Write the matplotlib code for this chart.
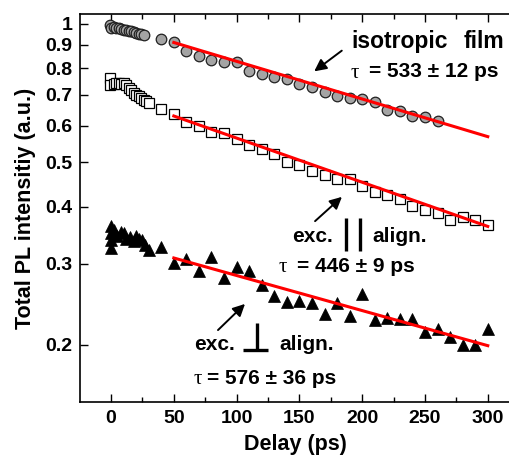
import matplotlib
matplotlib.use("Agg")
import matplotlib.pyplot as plt
from matplotlib.ticker import FixedLocator, FixedFormatter, MultipleLocator, NullLocator

# ---------------- data ----------------
iso_t = [-1, 0, 2, 4, 6, 8, 10, 12, 14, 16, 18, 20, 22, 24, 26,
         40, 50, 60, 70, 80, 90, 100, 110, 120, 130, 140, 150, 160, 170,
         180, 190, 200, 210, 220, 230, 240, 250, 260]
iso_y = [0.995, 0.980, 0.985, 0.982, 0.978, 0.975, 0.972, 0.970, 0.967, 0.963,
         0.960, 0.957, 0.953, 0.950, 0.946,
         0.926, 0.912, 0.875, 0.853, 0.835, 0.827, 0.825, 0.790, 0.778, 0.768,
         0.759, 0.740, 0.730, 0.710, 0.695, 0.691, 0.687, 0.675, 0.650, 0.647,
         0.630, 0.626, 0.615]

par_t = [-1, -1, 2, 4, 6, 8, 10, 12, 14, 16, 18, 20, 22, 24, 26, 28, 30,
         40, 50, 60, 70, 80, 90, 100, 110, 120, 130, 140, 150, 160, 170,
         180, 190, 200, 210, 220, 230, 240, 250, 260, 270, 280, 290, 300]
par_y = [0.762, 0.736, 0.740, 0.745, 0.742, 0.738, 0.742, 0.735, 0.724, 0.718,
         0.706, 0.700, 0.695, 0.690, 0.683, 0.678, 0.672,
         0.652, 0.636, 0.610, 0.598, 0.580, 0.578, 0.561, 0.544, 0.533, 0.520,
         0.499, 0.493, 0.477, 0.469, 0.459, 0.460, 0.444, 0.431, 0.424, 0.415,
         0.402, 0.394, 0.387, 0.374, 0.380, 0.374, 0.364]

perp_t = [0, 0, 0, 0, 2, 5, 8, 10, 12, 15, 18, 20, 22, 25, 27, 30,
          40, 50, 60, 70, 80, 90, 100, 110, 120, 130, 140, 150, 160, 170,
          180, 190, 200, 210, 220, 230, 240, 250, 260, 270, 280, 290, 300]
perp_y = [0.362, 0.350, 0.338, 0.325, 0.356, 0.345, 0.352, 0.350, 0.340, 0.344,
          0.336, 0.345, 0.340, 0.338, 0.330, 0.322,
          0.327, 0.302, 0.307, 0.289, 0.311, 0.280, 0.296, 0.289, 0.270, 0.255,
          0.248, 0.249, 0.247, 0.233, 0.246, 0.231, 0.258, 0.226, 0.229, 0.228,
          0.228, 0.213, 0.216, 0.208, 0.200, 0.200, 0.216]

# exponential fits (straight lines on log axis), endpoints
iso_fit_t = [50, 300]
iso_fit_y = [0.911, 0.568]
par_fit_t = [50, 300]
par_fit_y = [0.630, 0.362]
perp_fit_t = [50, 300]
perp_fit_y = [0.309, 0.199]

y_ticks = [0.2, 0.3, 0.4, 0.5, 0.6, 0.7, 0.8, 0.9, 1.0]
y_tick_labels = ["0.2", "0.3", "0.4", "0.5", "0.6", "0.7", "0.8", "0.9", "1"]
x_ticks = [0, 50, 100, 150, 200, 250, 300]

# ---------------- figure ----------------
W, H = 510, 466
fig = plt.figure(figsize=(W / 100, H / 100), dpi=100)
ax = fig.add_axes([80 / W, 1 - 402 / H, (W - 80) / W, (402 - 14) / H])

FONT = "Liberation Sans"

ax.plot(iso_t, iso_y, "o", ms=7.6, mfc="#a4a4a4", mec="#202020", mew=0.9, zorder=3)
ax.plot(par_t, par_y, "s", ms=7.2, mfc="white", mec="black", mew=0.9, zorder=3)
ax.plot(perp_t, perp_y, "^", ms=9.0, mfc="black", mec="black", mew=0.5, zorder=3)

for ft, fy in [(iso_fit_t, iso_fit_y), (par_fit_t, par_fit_y), (perp_fit_t, perp_fit_y)]:
    ax.plot(ft, fy, "-", color="#ff0000", lw=2.2, zorder=4)

ax.set_yscale("log")
ax.set_ylim(0.150, 1.051)
ax.set_xlim(-24.7, 317.7)

ax.yaxis.set_major_locator(FixedLocator(y_ticks))
ax.yaxis.set_major_formatter(FixedFormatter(y_tick_labels))
ax.yaxis.set_minor_locator(NullLocator())
ax.xaxis.set_major_locator(FixedLocator(x_ticks))
ax.xaxis.set_minor_locator(MultipleLocator(25))

ax.tick_params(axis="y", which="major", direction="in", length=6, width=1.0,
               left=True, right=False, pad=5.5, labelsize=14)
ax.tick_params(axis="x", which="major", direction="in", length=6, width=1.0,
               top=True, bottom=True, pad=6, labelsize=14)
ax.tick_params(axis="x", which="minor", direction="in", length=3.5, width=1.0,
               top=True, bottom=True)
for lbl in ax.get_xticklabels() + ax.get_yticklabels():
    lbl.set_fontfamily(FONT)
    lbl.set_fontweight("bold")

for s in ["left", "bottom", "top"]:
    ax.spines[s].set_linewidth(1.2)
ax.spines["right"].set_visible(False)

ax.set_xlabel("Delay (ps)", fontfamily=FONT, fontweight="bold", fontsize=15.5, labelpad=5)
ax.set_ylabel("Total PL intensitiy (a.u.)", fontfamily=FONT, fontweight="bold",
              fontsize=15.5, labelpad=7)

# ---------------- annotations (pixel overlay) ----------------
ov = fig.add_axes([0, 0, 1, 1], zorder=10)
ov.set_xlim(0, W)
ov.set_ylim(H, 0)
ov.axis("off")
ov.patch.set_alpha(0)

bold = dict(fontfamily=FONT, fontweight="bold", fontsize=15, va="center", ha="left")
tau = dict(fontfamily="Liberation Serif", fontsize=15, va="center", ha="left")
arrow = dict(arrowstyle="-|>", color="black", lw=1.4, mutation_scale=18)

# isotropic film
big = dict(bold, fontsize=16.5)
ov.text(351, 41.7, "isotropic", **big)
ov.text(464, 41.7, "film", **big)
ov.text(351, 73, "τ", **tau)
ov.text(369, 71.7, "= 533 ± 12 ps", **bold)
ov.annotate("", xy=(312, 73), xytext=(344, 49), arrowprops=arrow)

# parallel
ov.text(292, 236.7, "exc.", **bold)
ov.plot([346, 346], [218, 251], color="black", lw=2.4, solid_capstyle="butt")
ov.plot([360, 360], [218, 251], color="black", lw=2.4, solid_capstyle="butt")
ov.text(372, 236.7, "align.", **bold)
ov.text(279, 268, "τ", **tau)
ov.text(297, 266.7, "= 446 ± 9 ps", **bold)
ov.annotate("", xy=(344, 195), xytext=(313, 223), arrowprops=arrow)

# perpendicular
ov.text(194, 345, "exc.", **bold)
ov.plot([257.3, 257.3], [323, 350], color="black", lw=2.4, solid_capstyle="butt")
ov.plot([242.7, 268.3], [350, 350], color="black", lw=2.4, solid_capstyle="butt")
ov.text(279, 345, "align.", **bold)
ov.text(194, 379.5, "τ", **tau)
ov.text(207, 378.3, "= 576 ± 36 ps", **bold)
ov.annotate("", xy=(247, 302), xytext=(216, 332), arrowprops=arrow)

fig.savefig("out.png", dpi=100)
